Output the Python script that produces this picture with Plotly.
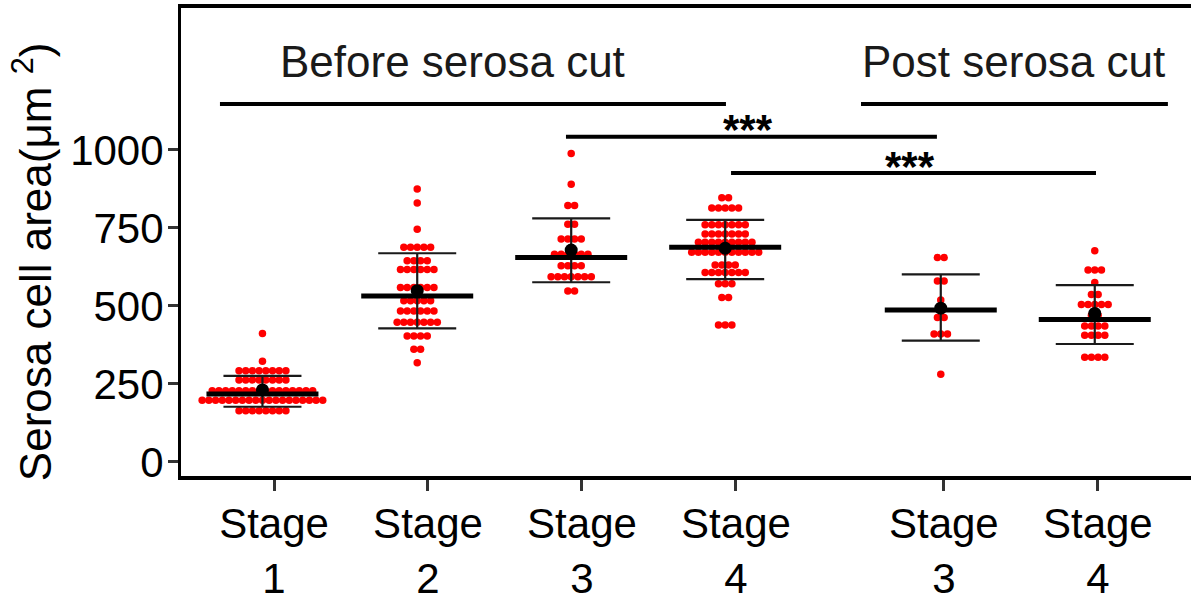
import plotly.graph_objects as go
import numpy as np

# ---------------- data ----------------
tick_labels = ["Stage<br>1", "Stage<br>2", "Stage<br>3", "Stage<br>4", "Stage<br>3", "Stage<br>4"]
tick_x = [1, 2, 3, 4, 5.35, 6.35]
group_x = [0.925, 1.93, 2.93, 3.93, 5.33, 6.33]

stage1 = [412, 323] + [292]*8 + [263]*8 + [228]*16 + [198]*19 + [164]*8
stage2 = [875, 830, 746] + [688]*5 + [645]*4 + [617]*6 + [559]*6 + [517]*5 + [484]*6 + [448]*7 + [404]*4 + [361]*2 + [318]
stage3 = [989, 890] + [822]*2 + [762]*2 + [715]*4 + [666]*6 + [629]*4 + [594]*7 + [548]*2
stage4 = [847]*2 + [814]*5 + [760]*7 + [731]*7 + [704]*9 + [672]*11 + [631]*4 + [607]*7 + [571]*3 + [527]*2 + [439]*3
post3 = [655]*2 + [580]*2 + [519] + [493] + [463]*2 + [410]*3 + [281]
post4 = [677] + [615]*3 + [575] + [537]*2 + [505]*5 + [470]*2 + [436]*4 + [406]*4 + [336]*4
groups = [stage1, stage2, stage3, stage4, post3, post4]

means = [231, 549, 679, 685, 493, 476]
medians = [218, 532, 655, 688, 487, 457]
sd_low = [177, 428, 576, 586, 389, 378]
sd_high = [276, 669, 781, 776, 601, 567]

bracket_labels = ["Before serosa cut", "Post serosa cut"]
bracket_x0 = [0.649, 4.812]
bracket_x1 = [3.935, 6.805]
bracket_y = 1147
bracket_text_x = [2.162, 5.805]

sig_x0 = [2.896, 3.968]
sig_x1 = [5.305, 6.338]
sig_y = [1042, 926]
sig_text = ["***", "***"]

FONT = "Liberation Sans, Arial, sans-serif"
spacing = 0.0435

fig = go.Figure()

# dots (centered stacks per value)
for gx, vals in zip(group_x, groups):
    xs, ys = [], []
    uniq = sorted(set(vals), reverse=True)
    for v in uniq:
        n = vals.count(v)
        for i in range(n):
            xs.append(gx + (i - (n - 1) / 2) * spacing)
            ys.append(v)
    fig.add_trace(go.Scatter(x=xs, y=ys, mode="markers",
                             marker=dict(color="#ff0000", size=7.5, line=dict(width=0)),
                             hoverinfo="skip", showlegend=False))

# error bars (mean +/- sd)
fig.add_trace(go.Scatter(
    x=group_x, y=means, mode="markers", marker=dict(size=0.1, color="rgba(0,0,0,0)"),
    error_y=dict(type="data", symmetric=False,
                 array=[h - m for h, m in zip(sd_high, means)],
                 arrayminus=[m - l for m, l in zip(means, sd_low)],
                 width=39, thickness=2.2, color="#1a1a1a"),
    showlegend=False, hoverinfo="skip"))

# median bars
fig.add_trace(go.Scatter(
    x=group_x, y=medians, mode="markers",
    marker=dict(symbol="line-ew", size=80, line=dict(width=5, color="black")),
    showlegend=False, hoverinfo="skip"))

# means
fig.add_trace(go.Scatter(
    x=group_x, y=means, mode="markers",
    marker=dict(symbol="circle", size=13, color="black"),
    showlegend=False, hoverinfo="skip"))

shapes = []
annotations = []
for lab, x0, x1, tx in zip(bracket_labels, bracket_x0, bracket_x1, bracket_text_x):
    shapes.append(dict(type="line", xref="x", yref="y", x0=x0, x1=x1, y0=bracket_y, y1=bracket_y,
                       line=dict(color="black", width=4)))
    annotations.append(dict(text=lab, x=tx, y=1285, xref="x", yref="y", showarrow=False,
                            xanchor="center", yanchor="middle",
                            font=dict(family=FONT, size=44, color="#1a1a1a")))
for x0, x1, y, t in zip(sig_x0, sig_x1, sig_y, sig_text):
    shapes.append(dict(type="line", xref="x", yref="y", x0=x0, x1=x1, y0=y, y1=y,
                       line=dict(color="black", width=4)))
    annotations.append(dict(text="<b>" + t + "</b>", x=(x0 + x1) / 2 - 0.025, y=y, yshift=7,
                            xref="x", yref="y",
                            showarrow=False, xanchor="center", yanchor="middle",
                            font=dict(family=FONT, size=42, color="black")))

annotations.append(dict(text="Serosa cell area(μm <sup>2</sup>)", x=-0.147, y=0.458,
                        xref="paper", yref="paper", showarrow=False, textangle=-90,
                        xanchor="center", yanchor="middle",
                        font=dict(family=FONT, size=44, color="black")))

fig.update_layout(
    width=1191, height=599,
    margin=dict(l=181, r=0, t=8, b=123, autoexpand=False),
    paper_bgcolor="white", plot_bgcolor="white",
    shapes=shapes, annotations=annotations,
    xaxis=dict(range=[0.396, 6.955], tickmode="array", tickvals=tick_x, ticktext=tick_labels,
               automargin=False,
               showgrid=False, zeroline=False, showline=True, linecolor="black", linewidth=4,
               mirror=True, ticks="outside", ticklen=11, tickwidth=3, tickcolor="#333333",
               ticklabelstandoff=-3,
               tickfont=dict(family=FONT, size=42, color="black")),
    yaxis=dict(range=[-45, 1455], tickmode="array", tickvals=[0, 250, 500, 750, 1000],
               automargin=False,
               showgrid=False, zeroline=False, showline=True, linecolor="black", linewidth=3,
               ticks="outside", ticklen=10, tickwidth=3, tickcolor="#333333",
               ticklabelstandoff=-4,
               tickfont=dict(family=FONT, size=42, color="black")),
)

fig.write_html("out.html", config={"displayModeBar": False},
               post_script="document.body.style.margin='0px';")
